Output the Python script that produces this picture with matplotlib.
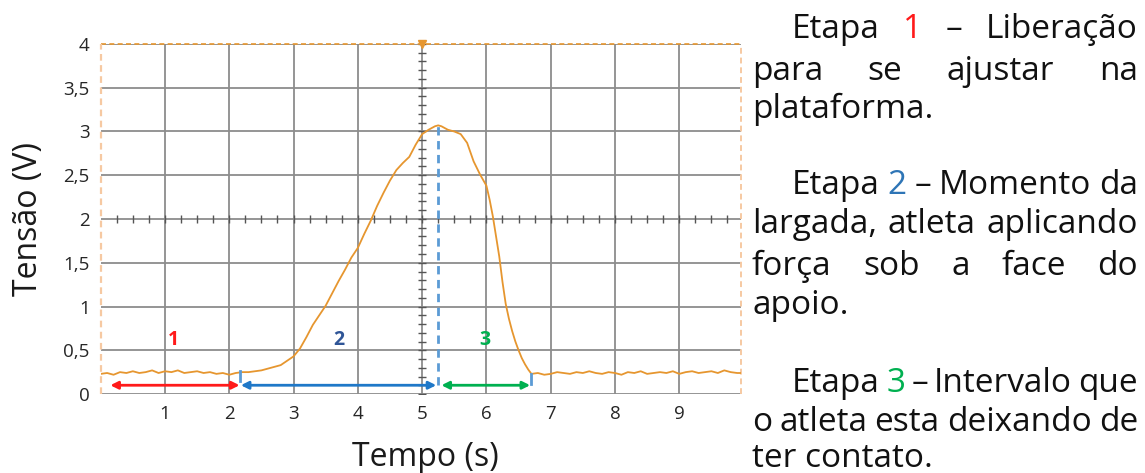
import matplotlib
matplotlib.use("Agg")
import matplotlib.pyplot as plt
import numpy as np

plt.rcParams['font.family'] = ['Open Sans', 'DejaVu Sans']

# sinal do sensor (tempo em s, tensao em V)
tempo_ini = [0.0, 0.1, 0.2, 0.3, 0.4, 0.5, 0.6, 0.7, 0.8, 0.9, 1.0, 1.1, 1.2, 1.3, 1.4,
             1.5, 1.6, 1.7, 1.8, 1.9, 2.0, 2.1, 2.2]
tensao_ini = [0.23, 0.24, 0.22, 0.25, 0.24, 0.26, 0.24, 0.25, 0.27, 0.24, 0.26, 0.25, 0.27,
              0.24, 0.25, 0.26, 0.24, 0.25, 0.23, 0.24, 0.22, 0.24, 0.25]

tempo_pico = [2.3, 2.4, 2.5, 2.6, 2.7, 2.8, 2.9, 3.0, 3.1, 3.2, 3.3, 3.4, 3.5, 3.6, 3.7,
              3.8, 3.9, 4.0, 4.1, 4.2, 4.3, 4.4, 4.5, 4.6, 4.7, 4.8, 4.9, 5.0, 5.1, 5.2,
              5.25, 5.3, 5.4, 5.5, 5.6, 5.7, 5.8, 5.9, 6.0, 6.05, 6.1, 6.15, 6.2, 6.25,
              6.3, 6.35, 6.4, 6.45, 6.5, 6.55, 6.6, 6.65, 6.7]
tensao_pico = [0.25, 0.26, 0.27, 0.29, 0.31, 0.33, 0.38, 0.43, 0.52, 0.65, 0.79, 0.90, 1.01,
               1.15, 1.29, 1.42, 1.56, 1.67, 1.83, 1.98, 2.15, 2.30, 2.44, 2.56, 2.64, 2.71,
               2.85, 2.97, 3.02, 3.06, 3.07, 3.06, 3.02, 3.00, 2.97, 2.87, 2.66, 2.51, 2.38,
               2.22, 2.03, 1.80, 1.57, 1.28, 1.03, 0.86, 0.72, 0.60, 0.50, 0.41, 0.34, 0.28,
               0.23]

tempo_fim = [6.8, 6.9, 7.0, 7.1, 7.2, 7.3, 7.4, 7.5, 7.6, 7.7, 7.8, 7.9, 8.0, 8.1, 8.2,
             8.3, 8.4, 8.5, 8.6, 8.7, 8.8, 8.9, 9.0, 9.1, 9.2, 9.3, 9.4, 9.5, 9.6, 9.7,
             9.8, 9.9, 9.96]
tensao_fim = [0.24, 0.22, 0.23, 0.25, 0.24, 0.23, 0.25, 0.24, 0.26, 0.24, 0.23, 0.25, 0.24,
              0.22, 0.25, 0.24, 0.26, 0.23, 0.24, 0.25, 0.24, 0.26, 0.23, 0.25, 0.26, 0.24,
              0.25, 0.26, 0.24, 0.27, 0.25, 0.24, 0.24]

# etapas: (inicio, fim) em s
etapas = [(0.15, 2.16), (2.18, 5.22), (5.30, 6.68)]
etapa_nomes = ['1', '2', '3']
etapa_x = [1.13, 3.70, 5.98]
t_pico = 5.25
v_pico = 3.07

x_ticks = [1, 2, 3, 4, 5, 6, 7, 8, 9]
y_ticks = [0, 0.5, 1, 1.5, 2, 2.5, 3, 3.5, 4]
y_labels = ['0', '0,5', '1', '1,5', '2', '2,5', '3', '3,5', '4']

tempo = tempo_ini + tempo_pico + tempo_fim
tensao = tensao_ini + tensao_pico + tensao_fim

W, H = 1145, 473
fig = plt.figure(figsize=(W / 100, H / 100), dpi=100)
ax = fig.add_axes([100.7 / W, 79 / H, 640.3 / W, 350 / H])

cinza = '#8c8c8c'
laranja = '#e6962f'

ax.set_xlim(0, 9.96)
ax.set_ylim(0, 4)
ax.set_xticks(x_ticks)
ax.set_yticks(y_ticks)
ax.set_yticklabels(y_labels)
ax.tick_params(length=0, labelsize=13.5, colors='#262626')
ax.tick_params(axis='x', pad=8)
ax.tick_params(axis='y', pad=8)
for s in ax.spines.values():
    s.set_visible(False)

# grade estilo osciloscopio
for xv in range(1, 10):
    ax.axvline(xv, color=cinza, lw=1.3, zorder=1)
for yv in y_ticks:
    ax.axhline(yv, color=cinza, lw=1.3, zorder=1)
ax.plot(np.full(41, 5.0), np.arange(41) * 0.1, ls='none', marker='_', ms=6,
        mew=1.0, color='#555555', zorder=1)
ax.plot(np.arange(1, 40) * 0.25, np.full(39, 2.0), ls='none', marker='|', ms=6,
        mew=1.0, color='#555555', zorder=1)

# bordas tracejadas do osciloscopio
ax.axhline(4, color=laranja, lw=1.2, ls=(0, (3, 2)), zorder=3, clip_on=False)
ax.axvline(0, color='#f6c9a2', lw=1.6, ls=(0, (3, 2)), zorder=3, clip_on=False)
ax.axvline(9.96, color='#f6c9a2', lw=1.4, ls=(0, (3, 2)), zorder=3, clip_on=False)
ax.plot([5], [4], marker='v', ms=6, color=laranja, clip_on=False, zorder=4)

ax.plot(tempo, tensao, color=laranja, lw=1.3, zorder=4)

# marcacoes das etapas
cores_seta = ['#ff1a1a', '#1f78c8', '#00b050']
cores_num = ['#ff1a1a', '#2f5597', '#00b050']
for (a, b), cor in zip(etapas, cores_seta):
    ax.annotate('', xy=(b, 0.10), xytext=(a, 0.10),
                arrowprops=dict(arrowstyle='<|-|>', color=cor, lw=2,
                                mutation_scale=11, shrinkA=0, shrinkB=0), zorder=5)
for nome, xv, cor in zip(etapa_nomes, etapa_x, cores_num):
    ax.text(xv, 0.62, nome, color=cor, fontsize=14, fontweight='bold',
            ha='center', va='center', zorder=5)

ax.plot([t_pico, t_pico], [0.1, v_pico], color='#5b9bd5', lw=2, ls=(0, (3, 2)), zorder=5)
ax.plot([2.17, 2.17], [0.15, 0.26], color='#5b9bd5', lw=2, zorder=5)
ax.plot([6.69, 6.69], [0.12, 0.23], color='#5b9bd5', lw=2, zorder=5)

fig.text(425 / W, 1 - 457 / H, 'Tempo (s)', fontsize=23, ha='center', va='center',
         color='#1a1a1a')
fig.text(28 / W, 1 - 219 / H, 'Tensão (V)', fontsize=23, ha='center', va='center',
         rotation=90, color='#1a1a1a')

# texto justificado a direita
renderer = fig.canvas.get_renderer()
tam = 24


def linha(palavras, cores, x0, yb, justif=True, x1=1138):
    txts = [fig.text(0, 0, p, fontsize=tam, color=c, va='baseline', ha='left')
            for p, c in zip(palavras, cores)]
    larg = [t.get_window_extent(renderer).width for t in txts]
    if justif and len(txts) > 1:
        gap = (x1 - x0 - sum(larg)) / (len(txts) - 1)
    else:
        gap = 0
    x = x0
    for t, w in zip(txts, larg):
        t.set_position((x / W, 1 - yb / H))
        x += w + gap


k = '#111111'
linha(['Etapa', '1', '–', 'Liberação'], [k, '#ff1a1a', k, k], 792, 38)
linha(['para', 'se', 'ajustar', 'na'], [k] * 4, 752, 80)
linha(['plataforma.'], [k], 752, 118, justif=False)
linha(['Etapa', '2', '–', 'Momento', 'da'], [k, '#2e75b6', k, k, k], 792, 194)
linha(['largada,', 'atleta', 'aplicando'], [k] * 3, 752, 233)
linha(['força', 'sob', 'a', 'face', 'do'], [k] * 5, 752, 275)
linha(['apoio.'], [k], 752, 314, justif=False)
linha(['Etapa', '3', '–', 'Intervalo', 'que'], [k, '#00b050', k, k, k], 792, 392)
linha(['o', 'atleta', 'esta', 'deixando', 'de'], [k] * 5, 752, 431)
linha(['ter contato.'], [k], 752, 467, justif=False)

fig.savefig('out.png', dpi=100)
